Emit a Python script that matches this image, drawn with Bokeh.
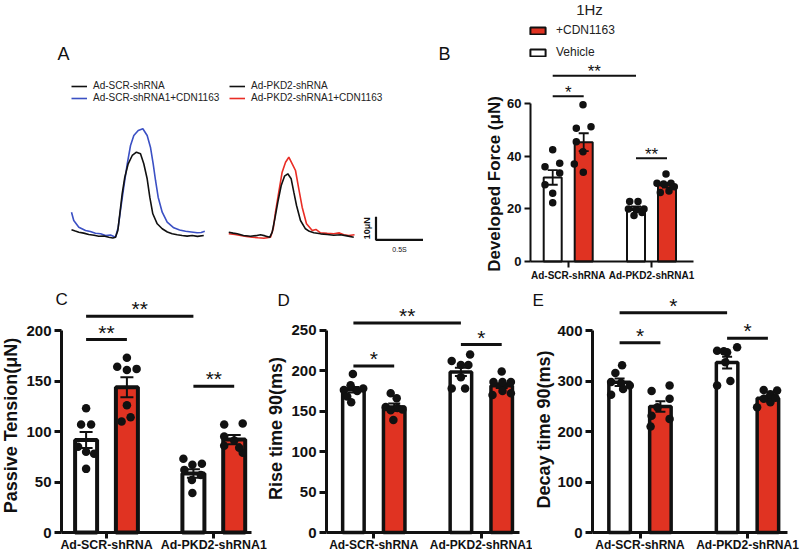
import math
from bokeh.plotting import figure
from bokeh.layouts import column, row
from bokeh.models import Range1d, FixedTicker, Label, Legend, LegendItem
from bokeh.core.properties import value
from bokeh.embed import file_html
from bokeh.resources import INLINE

FONT = "Liberation Sans"
INK = "#111111"
BAR_RED = "#e03322"
TRACE_BLUE = "#3b50c4"
TRACE_RED = "#e92d25"

# ---------------------------------------------------------------- data
categories = ["Ad-SCR-shRNA", "Ad-PKD2-shRNA1"]
treatments = ["Vehicle", "+CDN1163"]

# A: representative twitch traces (time in s, force in μN)
scr_t = [0.000, 0.040, 0.078, 0.130, 0.184, 0.240, 0.290, 0.345, 0.397, 0.440, 0.468, 0.493,
         0.514, 0.539, 0.567, 0.603, 0.646, 0.691, 0.734, 0.769, 0.805, 0.833, 0.865, 0.912,
         0.965, 1.020, 1.071, 1.125, 1.177, 1.230, 1.284, 1.340, 1.407]
scr_f = [4.65, 4.10, 3.61, 3.20, 2.61, 2.30, 1.87, 1.95, 1.43, 1.10, 1.43, 4.35,
         11.61, 20.30, 27.52, 33.35, 36.96, 38.39, 37.70, 33.35, 26.83, 18.83, 11.61, 7.26,
         5.09, 3.70, 2.91, 2.50, 2.17, 1.90, 2.17, 1.80, 2.17]

scr_cdn_t = [0.000, 0.024, 0.078, 0.149, 0.200, 0.255, 0.310, 0.362, 0.415, 0.468, 0.497, 0.521,
             0.556, 0.593, 0.628, 0.663, 0.710, 0.759, 0.805, 0.840, 0.869, 0.894, 0.922, 0.965,
             1.018, 1.088, 1.150, 1.213, 1.275, 1.337, 1.380, 1.418]
scr_cdn_f = [12.30, 8.70, 5.78, 4.35, 3.90, 3.17, 2.90, 2.17, 2.40, 1.43, 5.78, 13.04,
             23.17, 33.35, 41.30, 45.65, 47.83, 48.57, 45.65, 40.57, 33.35, 26.09, 18.83, 12.30,
             7.96, 5.52, 4.60, 4.04, 3.70, 3.35, 3.50, 4.04]

pkd_t = [1.673, 1.720, 1.763, 1.830, 1.904, 1.960, 2.011, 2.060, 2.110, 2.135, 2.163, 2.195,
         2.231, 2.266, 2.301, 2.337, 2.365, 2.394, 2.436, 2.489, 2.530, 2.578, 2.650, 2.720,
         2.790, 2.862, 2.930, 3.003]
pkd_f = [3.61, 3.20, 2.91, 2.20, 1.87, 2.10, 2.48, 2.00, 1.43, 3.61, 9.43, 16.65,
         23.91, 27.96, 29.00, 26.83, 21.00, 15.22, 8.70, 5.09, 4.00, 3.35, 2.90, 2.61,
         2.30, 2.48, 2.00, 1.43]

pkd_cdn_t = [1.673, 1.740, 1.798, 1.860, 1.922, 1.985, 2.046, 2.117, 2.146, 2.170, 2.205, 2.241,
             2.277, 2.312, 2.348, 2.383, 2.418, 2.454, 2.500, 2.561, 2.600, 2.649, 2.720, 2.790,
             2.850, 2.897, 2.950, 3.011]
pkd_cdn_f = [2.91, 2.60, 2.17, 1.80, 1.43, 1.20, 1.00, 1.43, 5.09, 12.30, 21.00, 29.70,
             34.04, 36.22, 33.35, 30.43, 22.48, 14.48, 7.26, 4.35, 4.80, 3.35, 3.10, 2.91,
             3.30, 2.48, 2.20, 2.48]

scalebar_force = 10    # μN
scalebar_time = 0.5    # s

# B-E: group order SCR vehicle, SCR +CDN1163, PKD2 vehicle, PKD2 +CDN1163
force_mean = [32.0, 45.4, 20.3, 29.0]
force_sem = [2.8, 3.4, 0.7, 0.9]
force_points = [[42.5, 36.1, 37.4, 33.7, 29.2, 26.0, 22.4],
                [59.6, 50.7, 51.3, 45.6, 41.8, 37.1, 34.0],
                [22.8, 22.8, 20.0, 19.7, 20.0, 17.5, 18.6],
                [33.3, 29.8, 29.5, 29.8, 26.3, 26.8, 28.4]]

tension_mean = [91.5, 143.8, 58.5, 92.0]
tension_sem = [7.9, 9.9, 4.2, 4.6]
tension_points = [[123, 107, 107, 85, 80, 78, 63],
                  [173, 164, 161, 162, 126, 110, 114],
                  [73, 67, 68, 62, 57, 52, 39],
                  [107, 108, 95, 91, 86, 79, 84]]

rise_mean = [176.5, 155.0, 198.5, 181.5]
rise_sem = [3.5, 4.5, 5.0, 3.0]
rise_points = [[196, 182, 176, 178, 175, 168, 161],
               [172, 166, 155, 154, 152, 151, 139],
               [212, 220, 207, 207, 192, 178, 178],
               [199, 186, 186, 186, 170, 175, 172]]

decay_mean = [297.5, 249.5, 336.5, 266.0]
decay_sem = [7.5, 10.6, 11.6, 5.0]
decay_points = [[331, 316, 298, 296, 291, 273, 284],
                [280, 291, 265, 248, 231, 225, 210],
                [360, 359, 367, 357, 337, 291, 300],
                [282, 281, 274, 248, 258, 265, 267]]

# significance brackets: (first group, second group, bracket level, mark)
force_sig = [(0, 2, 70.7, "**"), (0, 1, 62.9, "*"), (2, 3, 39.3, "**")]
tension_sig = [(0, 2, 214.2, "**"), (0, 1, 191.1, "**"), (2, 3, 144.9, "**")]
rise_sig = [(0, 2, 259.1, "**"), (0, 1, 205.9, "*"), (2, 3, 232.4, "*")]
decay_sig = [(0, 2, 435.3, "*"), (0, 1, 375.8, "*"), (2, 3, 384.9, "*")]

# ---------------------------------------------------------------- layout
# horizontal scatter spread of the individual points (pixels)
force_spread = [[0, -7.7, 7, 7, -7.7, 0, 0], [-0.7, -7.4, 7.3, -7.4, -0.7, -9.4, -0.4],
                [-6.3, 2, -7.6, 0.4, 8, -2, 6], [-1, -10, -3.4, 4, -6.7, 2, 7.3]]
tension_spread = [[0, -5, 5, -8, 0, 8, 0], [0, -9.7, 0, 9.7, 0, -5.3, 3.7],
                  [-10, -1, 8.5, -9, 7.5, -1.5, -1], [-10, 8.5, -10, 0, -10, 8.5, 5]]
rise_spread = [[-0.5, -2.8, -9.5, 9.8, 3.8, -6.2, -2.2], [-3.5, 2.5, -8.5, 3.2, 8.2, -3.5, -0.8],
               [-9.2, 9.2, 0, 7.5, 0, -9.2, 4.2], [0, -8.2, 0.8, 9.2, -9.2, 0.8, 9.2]]
decay_spread = [[2.5, -4.2, -8.5, 1.5, 10.2, -8.5, 3.5], [-8.8, 9.2, 9.2, -3, -8.8, 9.2, -9.8],
                [-10, -3.3, 10, 0, -1.7, -10, 3.3], [-4.2, 9.2, 2.5, -10.8, 2.5, -4.2, 7.5]]


def style_axis(ax, st, size):
    ax.axis_line_width = st["axis_w"]
    ax.axis_line_color = INK
    ax.major_tick_line_width = st["axis_w"]
    ax.major_tick_line_color = INK
    ax.major_tick_in = 0
    ax.major_tick_out = st["tick_out"]
    ax.minor_tick_line_color = None
    ax.major_label_text_font = FONT
    ax.major_label_text_font_style = "bold"
    ax.major_label_text_font_size = size
    ax.major_label_text_color = INK


def bar_panel(g, st, means, sems, points, spread, sig, yticks, ytitle, letter, title_pos, letter_pos):
    # the plotting frame fills the whole canvas; the axes sit at fixed data locations
    X = lambda px: (px - g["c0"]) / g["unit"]
    Y = lambda py: (g["b"] - py) / g["ppu"]
    p = figure(width=g["w"], height=g["h"],
               x_range=Range1d(X(g["x0"]), X(g["x0"] + g["w"])),
               y_range=Range1d(Y(g["y0"] + g["h"]), Y(g["y0"])),
               output_backend="svg", toolbar_location=None, min_border=0)
    p.outline_line_color = None
    p.xgrid.visible = False
    p.ygrid.visible = False
    p.background_fill_color = "white"
    p.border_fill_color = "white"

    off = st["offset"] / g["unit"]
    xs = [i + s * off for i in range(len(categories)) for s in (-1, 1)]

    veh = p.vbar(x=xs[0::2], top=means[0::2], bottom=0, width=st["bar_w"] / g["unit"],
                 fill_color="white", line_color=INK, line_width=st["lw"])
    cdn = p.vbar(x=xs[1::2], top=means[1::2], bottom=0, width=st["bar_w"] / g["unit"],
                 fill_color=BAR_RED, line_color=INK, line_width=st["lw"])

    # mean ± SEM
    hw = st["cap"] / 2 / g["unit"]
    up = [m + s for m, s in zip(means, sems)]
    lo = [m - s for m, s in zip(means, sems)]
    p.segment(x0=xs, y0=lo, x1=xs, y1=up, line_color=INK, line_width=st["elw"])
    p.segment(x0=[x - hw for x in xs] * 2, y0=up + lo, x1=[x + hw for x in xs] * 2, y1=up + lo,
              line_color=INK, line_width=st["elw"])

    # individual preparations
    px_, py_ = [], []
    for gi, vals in enumerate(points):
        for k, v in enumerate(vals):
            px_.append(xs[gi] + spread[gi][k] / g["unit"])
            py_.append(v)
    p.scatter(px_, py_, size=st["dot"], fill_color=INK, line_color=None)

    # significance brackets
    fs = st["sig_fs"]
    for a, b, lvl, mark in sig:
        p.segment(x0=[xs[a]], y0=[lvl], x1=[xs[b]], y1=[lvl], line_color=INK, line_width=st["sig_lw"])
        ty = lvl + (st["sig_gap"] - 0.18 * fs) / g["ppu"]
        p.text(x=[(xs[a] + xs[b]) / 2], y=[ty], text=[mark], text_font=value(FONT),
               text_font_size=f"{fs}px", text_align="center", text_baseline="middle",
               text_color=INK)

    p.xaxis.fixed_location = 0
    p.xaxis.bounds = (X(g["l"]), X(g["r"]))
    p.xaxis.ticker = FixedTicker(ticks=list(range(len(categories))))
    p.xaxis.major_label_overrides = {i: c for i, c in enumerate(categories)}
    p.xaxis.major_label_standoff = st["xstand"]
    style_axis(p.xaxis[0], st, st["xtick_fs"])
    p.xaxis.major_tick_out = st["xtick_out"]

    p.yaxis.fixed_location = X(g["l"])
    p.yaxis.bounds = (0, yticks[-1])
    p.yaxis.ticker = FixedTicker(ticks=yticks)
    p.yaxis.major_label_standoff = 3
    style_axis(p.yaxis[0], st, st["ytick_fs"])

    p.add_layout(Label(x=X(title_pos[0]), y=Y(title_pos[1]), text=ytitle, angle=math.pi / 2,
                       text_align="center", text_baseline="middle", text_font=FONT,
                       text_font_style="bold", text_font_size=st["title_fs"], text_color=INK))
    p.add_layout(Label(x=X(letter_pos[0]), y=Y(letter_pos[1]), text=letter, text_align="left",
                       text_baseline="middle", text_font=FONT,
                       text_font_size=st["letter_fs"], text_color=INK))
    return p, veh, cdn, X, Y


BIG = dict(offset=20.4, bar_w=22, lw=3.5, elw=2, cap=12, dot=8.5, axis_w=3, tick_out=7,
           ytick_fs="15px", xtick_fs="12px", title_fs="18px", sig_fs=21, sig_lw=3,
           sig_gap=11, letter_fs="17px", xstand=-1, xtick_out=6)

# ---------------------------------------------------------------- A
A_T0, A_TPX, A_F0, A_FPX = 71, 94.0, 240, 2.3
tA = lambda px: (px - A_T0) / A_TPX
fA = lambda py: (A_F0 - py) / A_FPX
pA = figure(width=430, height=285, x_range=Range1d(tA(0), tA(430)), y_range=Range1d(fA(285), fA(0)),
            x_axis_type=None, y_axis_type=None, output_backend="svg", toolbar_location=None,
            min_border=0)
pA.outline_line_color = None
pA.background_fill_color = "white"
pA.border_fill_color = "white"

r_scr_cdn = pA.line(scr_cdn_t, scr_cdn_f, line_color=TRACE_BLUE, line_width=1.6)
r_scr = pA.line(scr_t, scr_f, line_color=INK, line_width=1.6)
r_pkd_cdn = pA.line(pkd_cdn_t, pkd_cdn_f, line_color=TRACE_RED, line_width=1.6)
r_pkd = pA.line(pkd_t, pkd_f, line_color=INK, line_width=1.6)

sb_t, sb_f = tA(375.5), fA(239.3)
pA.line([sb_t, sb_t, sb_t + scalebar_time], [sb_f + scalebar_force, sb_f, sb_f],
        line_color=INK, line_width=2.2)
pA.add_layout(Label(x=tA(366), y=sb_f + scalebar_force / 2, text=f"{scalebar_force}μN",
                    angle=math.pi / 2, text_align="center", text_baseline="middle", text_font=FONT,
                    text_font_style="bold", text_font_size="9px", text_color=INK))
pA.add_layout(Label(x=sb_t + scalebar_time / 2, y=fA(248.5), text=f"{scalebar_time}S",
                    text_align="center", text_baseline="middle", text_font=FONT,
                    text_font_size="7px", text_color=INK))
pA.add_layout(Label(x=tA(57), y=fA(53.5), text="A", text_baseline="middle", text_font=FONT,
                    text_font_size="18px", text_color=INK))

for items, lx in (([("Ad-SCR-shRNA", r_scr), ("Ad-SCR-shRNA1+CDN1163", r_scr_cdn)], 71),
                  ([("Ad-PKD2-shRNA", r_pkd), ("Ad-PKD2-shRNA1+CDN1163", r_pkd_cdn)], 229)):
    lg = Legend(items=[LegendItem(label=t, renderers=[r]) for t, r in items], location=(lx, 182))
    lg.label_text_font = FONT
    lg.label_text_font_size = "10px"
    lg.label_text_color = "#222222"
    lg.glyph_width = 16
    lg.glyph_height = 10
    lg.label_height = 10
    lg.label_standoff = 6
    lg.spacing = 1
    lg.padding = 0
    lg.margin = 0
    lg.border_line_color = None
    lg.background_fill_alpha = 0
    pA.add_layout(lg)

# ---------------------------------------------------------------- B
gB = dict(x0=430, y0=0, w=370, h=285, l=530, r=693, b=261, c0=567.7, unit=83.3, ppu=2.628)
stB = dict(BIG, offset=15.5, bar_w=18, lw=2, elw=1.8, cap=10, dot=7.5, axis_w=2, tick_out=6,
           ytick_fs="13px", xtick_fs="10px", title_fs="17px", sig_fs=17, sig_lw=2, sig_gap=7,
           letter_fs="18px", xstand=2, xtick_out=6)
pB, vehB, cdnB, XB, YB = bar_panel(gB, stB, force_mean, force_sem, force_points, force_spread,
                                   force_sig, [0, 20, 40, 60], "Developed Force (μN)", "B",
                                   (494, 183.5), (438, 53))
lgB = Legend(items=[LegendItem(label=treatments[1], renderers=[cdnB]),
                    LegendItem(label=treatments[0], renderers=[vehB])], location=(98, 226))
lgB.label_text_font = FONT
lgB.label_text_font_size = "12px"
lgB.label_text_color = "#222222"
lgB.glyph_width = 19
lgB.glyph_height = 9
lgB.label_height = 13
lgB.label_standoff = 9
lgB.spacing = 8
lgB.padding = 0
lgB.margin = 0
lgB.border_line_color = None
lgB.background_fill_alpha = 0
pB.add_layout(lgB)
pB.add_layout(Label(x=XB(589), y=YB(8.5), text="1Hz", text_align="center", text_baseline="middle",
                    text_font=FONT, text_font_size="15px", text_color="#222222"))

# ---------------------------------------------------------------- C, D, E
gC = dict(x0=0, y0=285, w=267, h=271, l=61, r=251, b=532, c0=106, unit=107.3, ppu=1.01)
pC, *_ = bar_panel(gC, dict(BIG, xtick_fs="12.4px", lw=4, cap=13), tension_mean, tension_sem,
                   tension_points, tension_spread, tension_sig, [0, 50, 100, 150, 200],
                   "Passive Tension(μN)", "C", (10, 425), (55, 298.5))

gD = dict(x0=267, y0=285, w=265, h=271, l=326, r=519, b=532, c0=373.3, unit=107.5, ppu=0.809)
pD, *_ = bar_panel(gD, dict(BIG, bar_w=21.5), rise_mean, rise_sem, rise_points, rise_spread, rise_sig,
                   [0, 50, 100, 150, 200, 250], "Rise time 90(ms)", "D", (275, 428), (277, 300))

gE = dict(x0=532, y0=285, w=268, h=271, l=592, r=787, b=532, c0=639.5, unit=107.5, ppu=0.505)
pE, *_ = bar_panel(gE, dict(BIG, bar_w=21.5, cap=10), decay_mean, decay_sem, decay_points,
                   decay_spread, decay_sig, [0, 100, 200, 300, 400], "Decay time 90(ms)", "E",
                   (543, 429), (532, 300))

layout = column(row(pA, pB), row(pC, pD, pE))
open("out.html", "w").write(file_html(layout, INLINE))
